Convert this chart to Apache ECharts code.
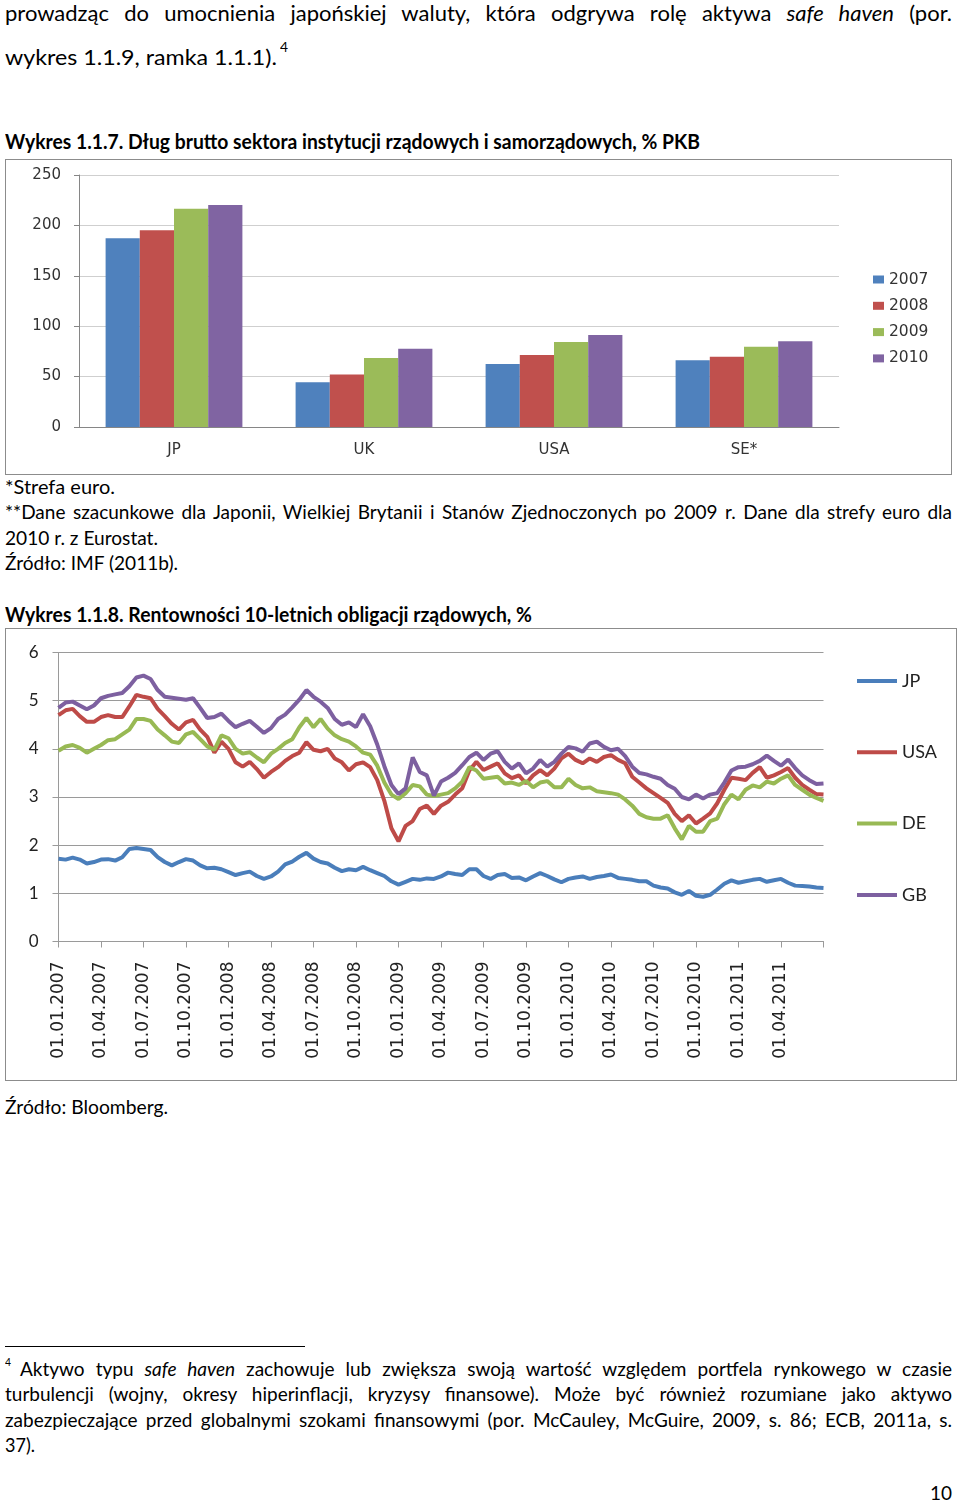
<!DOCTYPE html>
<html lang="pl"><head><meta charset="utf-8">
<script src="https://cdn.jsdelivr.net/npm/echarts@6/dist/echarts.min.js"></script>
<style>
html,body{margin:0;padding:0;background:#fff;}
body{width:960px;height:1502px;position:relative;overflow:hidden;font-family:Lato,"Open Sans",sans-serif;color:#000;}
.ln{position:absolute;white-space:nowrap;line-height:1.2;transform-origin:0 0;}
.b{font-weight:bold;}
#c1{position:absolute;left:5px;top:159px;width:947px;height:316px;border:1px solid #8c8c8c;box-sizing:border-box;}
#c2{position:absolute;left:5px;top:628px;width:952px;height:453px;border:1px solid #8c8c8c;box-sizing:border-box;}
#rule{position:absolute;left:5px;top:1346px;width:300px;height:1px;background:#000;}
</style></head>
<body>
<div class="ln" data-w="947" data-j="1" style="left:5px;top:0.3px;font-size:22px">prowadząc do umocnienia japońskiej waluty, która odgrywa rolę aktywa <i>safe haven</i> (por.</div>
<div class="ln" data-w="272" style="left:5px;top:44.3px;font-size:22px">wykres 1.1.9, ramka 1.1.1).</div>
<div class="ln" data-w="8" style="left:280px;top:40.2px;font-size:13px">4</div>
<div class="ln b" data-w="695" style="left:5px;top:129.3px;font-size:20px">Wykres 1.1.7. Dług brutto sektora instytucji rządowych i samorządowych, % PKB</div>
<div id="c1"></div>
<div class="ln" data-w="110" style="left:5px;top:476.2px;font-size:19px">*Strefa euro.</div>
<div class="ln" data-w="947" data-j="1" style="left:5px;top:501.2px;font-size:19px">**Dane szacunkowe dla Japonii, Wielkiej Brytanii i Stanów Zjednoczonych po 2009 r. Dane dla strefy euro dla</div>
<div class="ln" data-w="153" style="left:5px;top:527.2px;font-size:19px">2010 r. z Eurostat.</div>
<div class="ln" data-w="173" style="left:5px;top:552.2px;font-size:19px">Źródło: IMF (2011b).</div>
<div class="ln b" data-w="527" style="left:5px;top:602.3px;font-size:20px">Wykres 1.1.8. Rentowności 10-letnich obligacji rządowych, %</div>
<div id="c2"></div>
<div class="ln" data-w="163" style="left:5px;top:1096.2px;font-size:19px">Źródło: Bloomberg.</div>
<div id="rule"></div>
<div class="ln" data-w="6" style="left:5px;top:1355.2px;font-size:12px">4</div>
<div class="ln" data-w="932" data-j="1" style="left:20px;top:1358.2px;font-size:19px">Aktywo typu <i>safe haven</i> zachowuje lub zwiększa swoją wartość względem portfela rynkowego w czasie</div>
<div class="ln" data-w="947" data-j="1" style="left:5px;top:1383.2px;font-size:19px">turbulencji (wojny, okresy hiperinflacji, kryzysy finansowe). Może być również rozumiane jako aktywo</div>
<div class="ln" data-w="947" data-j="1" style="left:5px;top:1409.2px;font-size:19px">zabezpieczające przed globalnymi szokami finansowymi (por. McCauley, McGuire, 2009, s. 86; ECB, 2011a, s.</div>
<div class="ln" data-w="30" style="left:5px;top:1434.2px;font-size:19px">37).</div>
<div class="ln" data-w="22" style="left:930px;top:1480.3px;font-size:20px">10</div>
<script>
// ---------- Chart 1 data: gross government debt, % of GDP ----------
const debtCountries = ['JP', 'UK', 'USA', 'SE*'];
const debtYears = ['2007', '2008', '2009', '2010'];
const debt2007 = [187.2, 44.3, 62.5, 66.1];
const debt2008 = [195.1, 52.2, 71.4, 69.8];
const debt2009 = [216.6, 68.5, 84.3, 79.7];
const debt2010 = [220.2, 77.7, 91.3, 85.0];
const debtTicks = [0, 50, 100, 150, 200, 250];

// ---------- Chart 2 data: 10Y government bond yields, % (half-monthly readings) ----------
const yieldNames = ['JP', 'USA', 'DE', 'GB'];
const quarterLabels = ['01.01.2007','01.04.2007','01.07.2007','01.10.2007','01.01.2008','01.04.2008','01.07.2008','01.10.2008','01.01.2009','01.04.2009','01.07.2009','01.10.2009','01.01.2010','01.04.2010','01.07.2010','01.10.2010','01.01.2011','01.04.2011'];
const yieldTicks = [0, 1, 2, 3, 4, 5, 6];
const yieldJP = [1.72,1.70,1.74,1.70,1.62,1.65,1.70,1.71,1.68,1.75,
 1.92,1.94,1.92,1.90,1.75,1.65,1.58,1.65,1.71,1.68,
 1.58,1.52,1.53,1.50,1.44,1.38,1.42,1.45,1.36,1.30,
 1.35,1.45,1.60,1.66,1.76,1.84,1.72,1.65,1.62,1.53,
 1.46,1.50,1.48,1.55,1.48,1.42,1.36,1.25,1.18,1.24,
 1.30,1.28,1.31,1.30,1.35,1.43,1.40,1.38,1.50,1.50,
 1.36,1.30,1.38,1.40,1.32,1.33,1.27,1.35,1.42,1.36,
 1.29,1.23,1.30,1.33,1.35,1.30,1.34,1.36,1.39,1.32,
 1.30,1.28,1.25,1.25,1.16,1.12,1.10,1.02,0.97,1.05,
 0.95,0.93,0.97,1.08,1.20,1.27,1.22,1.25,1.28,1.30,
 1.24,1.27,1.30,1.22,1.16,1.15,1.14,1.12,1.11];
const yieldUSA = [4.70,4.80,4.83,4.68,4.56,4.56,4.66,4.70,4.66,4.66,
 4.88,5.12,5.08,5.05,4.83,4.68,4.52,4.40,4.55,4.60,
 4.40,4.25,3.92,4.15,4.00,3.72,3.63,3.73,3.58,3.40,
 3.52,3.62,3.75,3.85,3.92,4.14,3.98,3.95,4.00,3.80,
 3.72,3.55,3.68,3.72,3.62,3.35,2.92,2.35,2.08,2.40,
 2.50,2.75,2.82,2.65,2.82,2.90,3.05,3.18,3.55,3.73,
 3.56,3.63,3.70,3.49,3.39,3.45,3.28,3.45,3.56,3.45,
 3.59,3.80,3.90,3.77,3.70,3.80,3.73,3.83,3.87,3.77,
 3.70,3.42,3.30,3.18,3.08,2.98,2.88,2.65,2.50,2.62,
 2.45,2.55,2.66,2.87,3.15,3.40,3.38,3.35,3.50,3.62,
 3.40,3.45,3.52,3.60,3.40,3.25,3.15,3.06,3.05];
const yieldDE = [3.96,4.05,4.08,4.02,3.92,4.00,4.08,4.18,4.20,4.30,
 4.40,4.62,4.62,4.58,4.40,4.28,4.15,4.12,4.30,4.35,
 4.20,4.05,3.98,4.28,4.22,4.00,3.90,3.93,3.82,3.72,
 3.90,4.00,4.12,4.20,4.45,4.64,4.45,4.62,4.42,4.28,
 4.20,4.15,4.05,3.92,3.88,3.65,3.30,3.05,2.96,3.08,
 3.25,3.22,3.05,3.02,3.05,3.08,3.18,3.32,3.62,3.55,
 3.38,3.40,3.42,3.28,3.30,3.25,3.33,3.20,3.30,3.33,
 3.20,3.20,3.38,3.25,3.18,3.20,3.12,3.10,3.08,3.05,
 2.95,2.82,2.65,2.58,2.55,2.55,2.62,2.35,2.12,2.40,
 2.28,2.28,2.50,2.55,2.85,3.05,2.95,3.15,3.24,3.20,
 3.32,3.28,3.38,3.45,3.25,3.15,3.05,2.98,2.92];
const yieldGB = [4.85,4.96,4.98,4.90,4.82,4.90,5.05,5.10,5.13,5.16,
 5.30,5.48,5.52,5.45,5.22,5.08,5.06,5.04,5.02,5.05,
 4.85,4.64,4.66,4.73,4.58,4.45,4.52,4.58,4.46,4.33,
 4.43,4.62,4.71,4.86,5.02,5.22,5.08,4.98,4.85,4.62,
 4.50,4.55,4.45,4.72,4.47,4.09,3.64,3.25,3.06,3.18,
 3.82,3.52,3.45,3.03,3.32,3.40,3.50,3.66,3.83,3.92,
 3.77,3.90,3.95,3.73,3.59,3.70,3.49,3.59,3.77,3.63,
 3.73,3.90,4.04,4.01,3.94,4.11,4.15,4.04,3.97,4.00,
 3.85,3.63,3.50,3.47,3.42,3.38,3.25,3.17,3.00,2.95,
 3.05,2.97,3.05,3.08,3.30,3.55,3.62,3.63,3.68,3.75,
 3.86,3.75,3.65,3.78,3.60,3.45,3.35,3.27,3.28];

// half-month observation dates (category axis)
const halfMonthDates = [];
for (let y = 2007; y <= 2011; y++) {
  for (let m = 1; m <= 12; m++) {
    if (y === 2011 && m > 6) break;
    const mm = String(m).padStart(2, '0');
    halfMonthDates.push(y + '-' + mm + '-01', y + '-' + mm + '-16');
  }
}
halfMonthDates.push('2011-07-01');

// ---------- text fitting ----------
function fitAll() {
  document.querySelectorAll('.ln').forEach(function (el) {
    el.style.wordSpacing = '0px';
    el.style.transform = 'none';
    const target = parseFloat(el.dataset.w);
    const w = el.getBoundingClientRect().width;
    if (el.dataset.j) {
      const n = (el.textContent.match(/ /g) || []).length;
      if (w < target && n) { el.style.wordSpacing = ((target - w) / n) + 'px'; return; }
    }
    el.style.transform = 'scaleX(' + (target / w) + ')';
  });
}
fitAll();
if (document.fonts && document.fonts.ready) document.fonts.ready.then(fitAll);

// ---------- Chart 1 ----------
const barColors = ['#4F81BD', '#C0504D', '#9BBB59', '#8064A2'];
const debtSeries = [debt2007, debt2008, debt2009, debt2010];
const axisGray = '#868686';
const c1 = echarts.init(document.getElementById('c1'));
c1.setOption({
  animation: false,
  grid: { left: 73, top: 15, width: 760, height: 252 },
  legend: {
    orient: 'vertical', left: 862, top: 106.5, itemWidth: 11, itemHeight: 8, itemGap: 10.3,
    icon: 'rect', data: debtYears,
    textStyle: { fontFamily: 'DejaVu Sans', fontSize: 15.5, color: '#333', lineHeight: 16 }
  },
  xAxis: {
    type: 'category', data: debtCountries,
    axisLine: { lineStyle: { color: axisGray } },
    axisTick: { length: 5, lineStyle: { color: axisGray } },
    axisLabel: { fontFamily: 'DejaVu Sans', fontSize: 15, color: '#333', margin: 16 }
  },
  yAxis: {
    type: 'value', min: debtTicks[0], max: debtTicks[debtTicks.length - 1], interval: 50,
    axisLine: { show: true, lineStyle: { color: axisGray } },
    axisTick: { show: true, length: 5, lineStyle: { color: axisGray } },
    splitLine: { lineStyle: { color: '#cfcfcf' } },
    axisLabel: { fontFamily: 'DejaVu Sans', fontSize: 15, color: '#333', margin: 18 }
  },
  series: debtYears.map(function (yr, k) {
    return { name: yr, type: 'bar', data: debtSeries[k], barGap: '0%', barCategoryGap: '28%',
      itemStyle: { color: barColors[k] } };
  })
});

// ---------- Chart 2 ----------
const lineColors = ['#4A7EBB', '#BE4B48', '#98B954', '#7D60A0'];
const yieldSeries = [yieldJP, yieldUSA, yieldDE, yieldGB];
const grid2Gray = '#9a9a9a';
const c2 = echarts.init(document.getElementById('c2'));
c2.setOption({
  animation: false,
  grid: { left: 52.5, top: 23.5, width: 765, height: 289 },
  legend: {
    orient: 'vertical', left: 846, top: 36, itemWidth: 40, itemHeight: 4, itemGap: 49.3,
    icon: 'rect', data: yieldNames,
    textStyle: { fontFamily: 'Lato', fontSize: 18, color: '#222', lineHeight: 22 }
  },
  xAxis: {
    type: 'category', data: halfMonthDates, boundaryGap: false,
    axisLine: { lineStyle: { color: grid2Gray } },
    axisTick: { length: 6, interval: function (i) { return i % 6 === 0; }, lineStyle: { color: grid2Gray } },
    axisLabel: {
      rotate: 90, margin: 20, fontFamily: 'DejaVu Sans', fontSize: 17, color: '#222',
      interval: function (i) { return i % 6 === 0 && i / 6 < quarterLabels.length; },
      formatter: function (v, i) { return (i % 6 === 0 && i / 6 < quarterLabels.length) ? quarterLabels[i / 6] : ''; }
    }
  },
  yAxis: {
    type: 'value', min: yieldTicks[0], max: yieldTicks[yieldTicks.length - 1], interval: 1,
    axisLine: { show: true, lineStyle: { color: grid2Gray } },
    axisTick: { show: true, length: 6, lineStyle: { color: grid2Gray } },
    splitLine: { lineStyle: { color: grid2Gray } },
    axisLabel: { fontFamily: 'Lato', fontSize: 17, color: '#222', margin: 20 }
  },
  series: yieldNames.map(function (nm, k) {
    return { name: nm, type: 'line', data: yieldSeries[k], symbol: 'none', showSymbol: false,
      lineStyle: { width: 4, color: lineColors[k] }, itemStyle: { color: lineColors[k] } };
  })
});
</script>
</body></html>
